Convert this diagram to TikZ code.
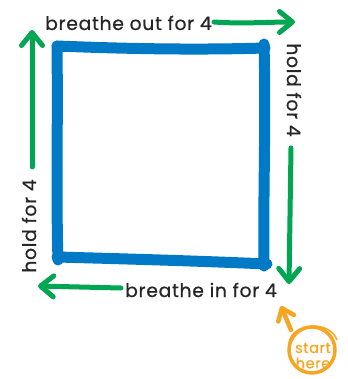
\documentclass[tikz,border=0pt]{standalone}
\usepackage{fontspec}
\setmainfont{Poppins}[FakeBold=0.7,LetterSpace=4]
\usetikzlibrary{arrows.meta}
\definecolor{sqblue}{RGB}{0,122,199}
\definecolor{argreen}{RGB}{0,166,81}
\definecolor{startor}{RGB}{246,166,35}
\tikzset{
  edge/.style={draw=sqblue,line width=11pt,line cap=round,line join=round},
  garrow/.style={draw=argreen,line width=5pt,line cap=round,line join=round,
     -{Straight Barb[length=13pt,width=21pt,round]}},
  oarrow/.style={draw=startor,line width=4.5pt,line cap=round,line join=round,
     -{Straight Barb[length=11pt,width=17pt,round]}},
  lbl/.style={font=\fontsize{18.7}{20}\selectfont,text=black!85,inner sep=0pt},
  startlbl/.style={font=\fontsize{14.5}{14}\selectfont,text=startor,inner sep=0pt}
}
\begin{document}
\begin{tikzpicture}[x=1pt,y=-1pt]
\useasboundingbox (0,0) rectangle (347,379);
% blue square
\coordinate (tl) at (57,46);
\coordinate (tr) at (265,48);
\coordinate (br) at (264,266);
\coordinate (bl) at (57,257);
\draw[edge] (tl) .. controls (130,49) and (200,50) .. (tr);
\draw[edge] (264,44) .. controls (266,120) and (263,200) .. (br);
\draw[edge] (bl) .. controls (130,259) and (200,261) .. (267,264);
\draw[edge] (tl) .. controls (58,120) and (56,200) .. (58,260);
% labels
\node[lbl,anchor=base west] (top) at (45,30) {breathe out for 4};
\node[lbl,rotate=-90] (right) at (294,90) {hold for 4};
\node[lbl,anchor=base west] (bottom) at (125,297) {breathe in for 4};
\node[lbl,rotate=90] (left) at (29,226) {hold for 4};
% green arrows
\coordinate (a1e) at (295,22);
\draw[garrow] (214,22) .. controls (240,24) and (270,22) .. (a1e);
\coordinate (a2s) at (291,148);
\coordinate (a2e) at (289,284);
\draw[garrow] (a2s) -- (a2e);
\coordinate (a3s) at (121,288);
\coordinate (a3e) at (38,286);
\draw[garrow] (a3s) -- (a3e);
\coordinate (a4s) at (32,167);
\coordinate (a4e) at (32,30);
\draw[garrow] (a4s) -- (a4e);
% start here
\node[startlbl] (start) at (313,348) {start};
\node[startlbl] (here) at (313,363) {here};
\draw[startor,line width=3.5pt] (312,350) circle (23);
\draw[startor,line width=1.5pt] (289,343) .. controls (292,322) and (330,320) .. (337,340);
\coordinate (os) at (291,330);
\coordinate (oe) at (281,306);
\draw[oarrow] (os) -- (oe);
\end{tikzpicture}
\end{document}
